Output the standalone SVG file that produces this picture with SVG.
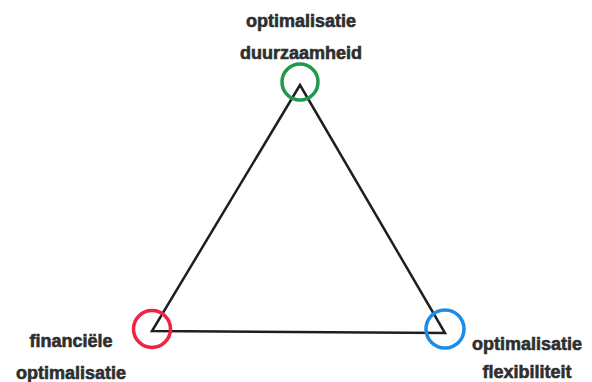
<svg xmlns="http://www.w3.org/2000/svg" width="592" height="382" viewBox="0 0 592 382">
  <style>
    .lbl { font-family: "Liberation Sans", Arial, sans-serif; font-weight: bold; font-size: 18px; fill: #2e2e2e; stroke: #2e2e2e; stroke-width: 0.6; text-anchor: middle; }
    .ring { fill: none; stroke-width: 3.5; }
    .edge { fill: none; stroke: #1f1f1f; stroke-width: 2.5; stroke-linejoin: miter; }
  </style>
  <rect width="592" height="382" fill="#ffffff"/>
  <g id="connectors">
    <polygon class="edge" points="300,85 152,331 445,333"/>
  </g>
  <g id="node-duurzaamheid">
    <circle class="ring" cx="300" cy="82" r="18" stroke="#1f9a4b"/>
    <text class="lbl" x="301" y="27">optimalisatie</text>
    <text class="lbl" x="301" y="59">duurzaamheid</text>
  </g>
  <g id="node-financieel">
    <circle class="ring" cx="152" cy="329" r="18.5" stroke="#f02340"/>
    <text class="lbl" x="71" y="347">financiële</text>
    <text class="lbl" x="71" y="379">optimalisatie</text>
  </g>
  <g id="node-flexibiliteit">
    <circle class="ring" cx="445" cy="329" r="19" stroke="#1b8de8"/>
    <text class="lbl" x="527" y="350">optimalisatie</text>
    <text class="lbl" x="527" y="378">flexibiliteit</text>
  </g>
</svg>
